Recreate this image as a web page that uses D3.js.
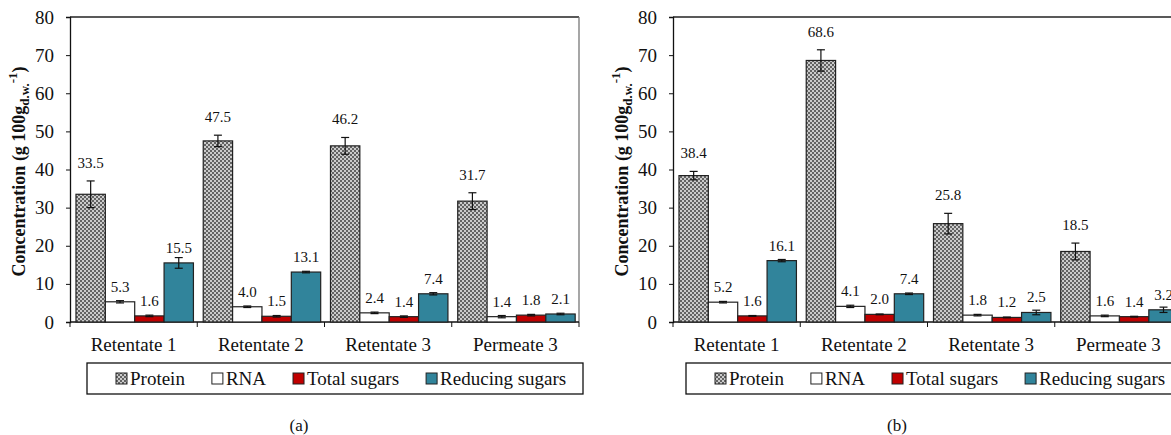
<!DOCTYPE html>
<html><head><meta charset="utf-8">
<script src="https://cdn.jsdelivr.net/npm/d3@7"></script>
<style>
html,body{margin:0;padding:0;background:#fff;}
svg{display:block;}
svg text{font-family:"Liberation Serif","Times New Roman",serif;}
</style></head>
<body>
<svg id="chart" width="1171" height="435"></svg>
<script>
// ---------- data ----------
const categories = ["Retentate 1", "Retentate 2", "Retentate 3", "Permeate 3"];
const seriesNames = ["Protein", "RNA", "Total sugars", "Reducing sugars"];
const yTicks = [0, 10, 20, 30, 40, 50, 60, 70, 80];

// panel (a)
const proteinA = [33.5, 47.5, 46.2, 31.7];
const rnaA = [5.3, 4.0, 2.4, 1.4];
const totalSugarsA = [1.6, 1.5, 1.4, 1.8];
const reducingSugarsA = [15.5, 13.1, 7.4, 2.1];
const proteinErrA = [3.5, 1.5, 2.2, 2.2];
const rnaErrA = [0.3, 0.2, 0.2, 0.3];
const totalSugarsErrA = [0.2, 0.2, 0.2, 0.2];
const reducingSugarsErrA = [1.4, 0.2, 0.3, 0.2];

// panel (b)
const proteinB = [38.4, 68.6, 25.8, 18.5];
const rnaB = [5.2, 4.1, 1.8, 1.6];
const totalSugarsB = [1.6, 2.0, 1.2, 1.4];
const reducingSugarsB = [16.1, 7.4, 2.5, 3.2];
const proteinErrB = [1.1, 2.8, 2.7, 2.2];
const rnaErrB = [0.2, 0.3, 0.2, 0.2];
const totalSugarsErrB = [0.1, 0.1, 0.1, 0.1];
const reducingSugarsErrB = [0.3, 0.2, 0.6, 0.7];

const panelLabels = ["(a)", "(b)"];

// ---------- styles ----------
const fills = ["url(#protPat)", "#ffffff", "#c00000", "#31849b"];
const FONT = "'Liberation Serif', 'Times New Roman', serif";

const svg = d3.select("#chart");
const defs = svg.append("defs");
const pat = defs.append("pattern").attr("id", "protPat").attr("patternUnits", "userSpaceOnUse")
  .attr("width", 4).attr("height", 4);
pat.append("rect").attr("width", 4).attr("height", 4).attr("fill", "#cbcbcb");
pat.append("rect").attr("x", 0).attr("y", 0).attr("width", 2).attr("height", 2).attr("fill", "#636363");
pat.append("rect").attr("x", 2).attr("y", 2).attr("width", 2).attr("height", 2).attr("fill", "#636363");

function drawPanel(x0, values, errors, label, labelX, legendLeft) {
  const plotW = 509, top = 17, bottom = 322;
  const g = svg.append("g");
  const x = d3.scaleBand().domain(categories).range([x0, x0 + plotW]).paddingInner(0).paddingOuter(0);
  const bw = x.bandwidth();
  const xs = d3.scaleBand().domain(seriesNames).range([bw * 0.047, bw * 0.97]).padding(0);
  const y = d3.scaleLinear().domain([0, 80]).range([bottom, top]);

  // frame top/right
  g.append("line").attr("x1", x0).attr("x2", x0 + plotW).attr("y1", top).attr("y2", top)
    .attr("stroke", "#222").attr("stroke-width", 1.3);
  g.append("line").attr("x1", x0 + plotW).attr("x2", x0 + plotW).attr("y1", top).attr("y2", bottom)
    .attr("stroke", "#777").attr("stroke-width", 1.3);

  // y axis
  const ya = g.append("g").attr("transform", `translate(${x0},0)`)
    .call(d3.axisLeft(y).tickValues(yTicks).tickSize(4).tickPadding(12).tickFormat(d3.format("d")));
  ya.attr("font-family", FONT);
  ya.select(".domain").attr("stroke", "#111").attr("stroke-width", 1.3);
  ya.selectAll(".tick line").attr("stroke", "#111");
  ya.selectAll(".tick text").attr("font-size", 19).attr("fill", "#111").attr("font-family", FONT);

  // x axis line + boundary ticks
  g.append("line").attr("x1", x0).attr("x2", x0 + plotW).attr("y1", bottom).attr("y2", bottom)
    .attr("stroke", "#111").attr("stroke-width", 1.3);
  const bounds = categories.map(c => x(c)).concat([x0 + plotW]);
  g.selectAll(".xb").data(bounds).join("line")
    .attr("x1", d => d).attr("x2", d => d).attr("y1", bottom).attr("y2", bottom + 5)
    .attr("stroke", "#111");
  g.selectAll(".xl").data(categories).join("text")
    .attr("x", d => x(d) + bw / 2).attr("y", 351).attr("text-anchor", "middle")
    .attr("font-family", FONT).attr("font-size", 19).attr("fill", "#111").text(d => d);

  // bars
  seriesNames.forEach((s, si) => {
    const sg = g.append("g");
    categories.forEach((c, ci) => {
      const v = values[si][ci], e = errors[si][ci];
      const bx = x(c) + xs(s), w = xs.bandwidth();
      sg.append("rect").attr("x", bx).attr("y", y(v)).attr("width", w).attr("height", y(0) - y(v))
        .attr("fill", fills[si]).attr("stroke", "#222").attr("stroke-width", 1.2);
      const cx = bx + w / 2;
      sg.append("line").attr("x1", cx).attr("x2", cx).attr("y1", y(v + e)).attr("y2", y(v - e))
        .attr("stroke", "#111").attr("stroke-width", 1.2);
      [v + e, v - e].forEach(t => sg.append("line").attr("x1", cx - 4).attr("x2", cx + 4)
        .attr("y1", y(t)).attr("y2", y(t)).attr("stroke", "#111").attr("stroke-width", 1.2));
      const ly = si === 0 ? y(v + e) - 13 : y(v) - 10;
      sg.append("text").attr("x", cx).attr("y", ly).attr("text-anchor", "middle")
        .attr("font-family", FONT).attr("font-size", 15).attr("fill", "#111").text(v.toFixed(1));
    });
  });

  // y title
  const tt = g.append("text").attr("transform", `translate(${x0 - 45},${(top + bottom) / 2 + 2}) rotate(-90)`)
    .attr("text-anchor", "middle").attr("font-family", FONT).attr("font-weight", "bold")
    .attr("font-size", 18).attr("fill", "#111");
  tt.append("tspan").text("Concentration  (g 100g");
  tt.append("tspan").attr("font-size", 13).attr("dy", 4).text("d.w.");
  tt.append("tspan").attr("font-size", 13).attr("dy", -12).text("-1");
  tt.append("tspan").attr("dy", 8).text(")");

  // legend
  const lgTop = 363, lgH = 31, lgRight = x0 + plotW + 4;
  g.append("rect").attr("x", legendLeft).attr("y", lgTop).attr("width", lgRight - legendLeft).attr("height", lgH)
    .attr("fill", "#fff").attr("stroke", "#111").attr("stroke-width", 1.3);
  let cx = legendLeft + 29;
  seriesNames.forEach((s, si) => {
    g.append("rect").attr("x", cx).attr("y", lgTop + 10).attr("width", 11).attr("height", 11)
      .attr("fill", fills[si]).attr("stroke", "#222").attr("stroke-width", 1);
    const t = g.append("text").attr("x", cx + 14).attr("y", lgTop + 22).attr("font-size", 19)
      .attr("font-family", FONT).attr("fill", "#111").text(s);
    cx += 14 + t.node().getComputedTextLength() + 27;
  });

  // panel label
  svg.append("text").attr("x", labelX).attr("y", 431).attr("text-anchor", "middle")
    .attr("font-family", FONT).attr("font-size", 17).attr("fill", "#111").text(label);
}

drawPanel(70,
  [proteinA, rnaA, totalSugarsA, reducingSugarsA],
  [proteinErrA, rnaErrA, totalSugarsErrA, reducingSugarsErrA], panelLabels[0], 299, 87);
drawPanel(673,
  [proteinB, rnaB, totalSugarsB, reducingSugarsB],
  [proteinErrB, rnaErrB, totalSugarsErrB, reducingSugarsErrB], panelLabels[1], 897, 686);
</script>
</body></html>
